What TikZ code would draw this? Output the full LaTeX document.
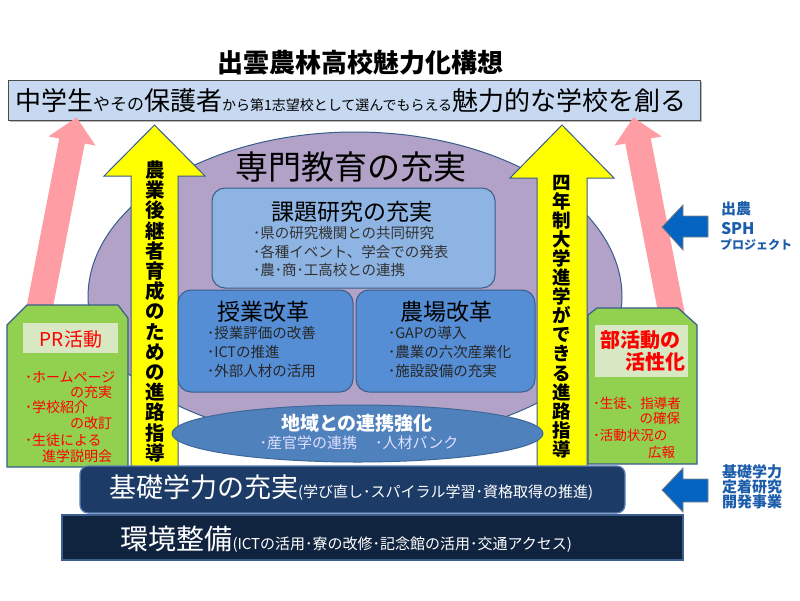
\documentclass[tikz,border=0pt]{standalone}
\usepackage{fontspec}
\setmainfont{Noto Sans CJK JP}
\usetikzlibrary{calc}
\definecolor{bannerc}{HTML}{C6D9F1}
\definecolor{purplec}{HTML}{B3A2C7}
\definecolor{edgec}{HTML}{385D8A}
\definecolor{kadaic}{HTML}{8EB4E3}
\definecolor{boxc}{HTML}{558ED5}
\definecolor{ellc}{HTML}{4F81BD}
\definecolor{yelc}{HTML}{FFFF00}
\definecolor{pinkc}{HTML}{FF9DA5}
\definecolor{greenc}{HTML}{92D050}
\definecolor{greenin}{HTML}{D7E8C2}
\definecolor{redc}{HTML}{FF0000}
\definecolor{bar1c}{HTML}{1C3B66}
\definecolor{bar1e}{HTML}{5B7FB5}
\definecolor{bar2c}{HTML}{10243F}
\definecolor{bar2e}{HTML}{3D5F8F}
\definecolor{bluec}{HTML}{0563C1}
\definecolor{bluetxt}{HTML}{1B5DAA}
\definecolor{itemc}{HTML}{333333}
\newcommand\fsz[2]{\fontsize{#1}{#2}\selectfont}
\begin{document}
\begin{tikzpicture}[x=1pt,y=-1pt,
  every node/.style={inner sep=0pt,outer sep=0pt},
  yarrow/.style={fill=yelc,draw=edgec,line width=1pt},
  bluearrow/.style={fill=bluec,draw=gray,line width=0.8pt},
  greenbox/.style={fill=greenc,draw=edgec,line width=1.2pt},
  subbox/.style={draw=edgec,line width=1pt,rounded corners=13pt},
  itemtxt/.style={align=left,font=\fsz{14.5}{18.8},text=itemc},
  redtxt/.style={font=\fsz{14}{16},text=redc},
  redtxts/.style={font=\fsz{13.5}{16},text=redc},
  bluelbl/.style={font=\bfseries\fsz{15}{16},text=bluetxt,anchor=base west},
  vtext/.style={align=center,font=\bfseries\fsz{19.5}{20.2},text=black}]
\useasboundingbox (0,0) rectangle (800,600);
\fill[white] (0,0) rectangle (800,600);

% title
\node (title) at (360,63) {\bfseries\fsz{26}{28}出雲農林高校魅力化構想};

% banner
\fill[gray!55] (10,82) rectangle (702,122);
\draw[fill=bannerc,draw=black!70,line width=1pt] (8,80) rectangle (700,120);
\node[anchor=base west] (banner) at (15,110) {{\fsz{26}{28}中学生}{\fsz{17}{20}やその}{\fsz{26}{28}保護者}{\fsz{14}{16}から第1志望校として選んでもらえる}{\fsz{26}{28}魅力的な学校を創る}};

% pink arrows
\begin{scope}[shift={(72,141)},rotate=-11]
\fill[pinkc] (-13,190) -- (-13,0) -- (-24,0) -- (0,-24) -- (24,0) -- (13,0) -- (13,190) -- cycle;
\end{scope}
\begin{scope}[shift={(638,141)},rotate=11]
\fill[pinkc] (-13,190) -- (-13,0) -- (-24,0) -- (0,-24) -- (24,0) -- (13,0) -- (13,190) -- cycle;
\end{scope}

% purple blob
\filldraw[fill=purplec,draw=edgec,line width=1pt] (88,297)
  arc[start angle=180,end angle=0,x radius=267pt,y radius=165pt]
  arc[start angle=0,end angle=-180,x radius=267pt,y radius=145pt] -- cycle;
\node (senmon) at (351,167) {\fsz{33}{36}専門教育の充実};

% yellow arrows
\filldraw[yarrow] (131,468) -- (131,176) -- (104,176) -- (154.5,125) -- (205,176) -- (178,176) -- (178,468) -- cycle;
\filldraw[yarrow] (537,468) -- (537,178) -- (510,178) -- (562,125) -- (614,178) -- (587,178) -- (587,468) -- cycle;
\node[vtext] (vleft) at (155,311.5) {農\\業\\後\\継\\者\\育\\成\\の\\た\\め\\の\\進\\路\\指\\導};
\node[vtext,font=\bfseries\fsz{18.5}{19.1}] (vright) at (562,316.5) {四\\年\\制\\大\\学\\進\\学\\が\\で\\き\\る\\進\\路\\指\\導};

% inner boxes
\node[subbox,fill=kadaic,minimum width=283pt,minimum height=100pt] (kadai) at (353.5,238) {};
\node (kadaiT) at (352,212) {\fsz{23}{25}課題研究の充実};
\node[itemtxt,anchor=west] (kadaiI) at (253,251.5) {･県の研究機関との共同研究\\･各種イベント、学会での発表\\･農･商･工高校との連携};

\node[subbox,fill=boxc,minimum width=175pt,minimum height=102pt] (jugyo) at (265.5,341) {};
\node (jugyoT) at (263.5,312) {\fsz{23}{25}授業改革};
\node[itemtxt,anchor=west,text=black!85] (jugyoI) at (207,352) {･授業評価の改善\\･ICTの推進\\･外部人材の活用};

\node[subbox,fill=boxc,minimum width=179pt,minimum height=102pt] (nojo) at (445.5,341) {};
\node (nojoT) at (446,312) {\fsz{23}{25}農場改革};
\node[itemtxt,anchor=west,text=black!85] (nojoI) at (388,352) {･GAPの導入\\･農業の六次産業化\\･施設設備の充実};

% ellipse
\filldraw[fill=ellc,draw=edgec!70!ellc,line width=1pt] (357.5,433.5) ellipse[x radius=185.5pt,y radius=28.5pt];
\node[text=white] (chiikiT) at (357,423) {\bfseries\fsz{19}{21}地域との連携強化};
\node[text=white!88!blue] (chiikiI) at (359,443) {\fsz{15}{17}･産官学の連携\hspace{18pt}･人材バンク};

% green boxes
\filldraw[greenbox] (7,325) -- (27,305) -- (118,305) -- (128,318) -- (128,467) -- (7,467) -- cycle;
\fill[greenin] (23,323) rectangle (118,353);
\node[text=redc] (prT) at (71,339) {\fsz{19}{21}PR活動};
\node[redtxt,anchor=base west] (pr1) at (25,382.3) {･ホームページ};
\node[redtxt,anchor=base east] (pr2) at (112,397.3) {の充実};
\node[redtxt,anchor=base west] (pr3) at (25,412.3) {･学校紹介};
\node[redtxt,anchor=base east] (pr4) at (112,428.3) {の改訂};
\node[redtxt,anchor=base west] (pr5) at (25,445.3) {･生徒による};
\node[redtxt,anchor=base east] (pr6) at (112,461.3) {進学説明会};

\filldraw[greenbox] (588,315) -- (597,308) -- (678,308) -- (697,325) -- (697,464) -- (588,464) -- cycle;
\fill[greenin] (595,325) rectangle (688,377);
\node[text=redc,anchor=base west] (buT1) at (600,347.6) {\bfseries\fsz{20}{22}部活動の};
\node[text=redc,anchor=base east] (buT2) at (685,369.6) {\bfseries\fsz{20}{22}活性化};
\node[redtxts,anchor=base west] (bu1) at (593,408.1) {･生徒、指導者};
\node[redtxts,anchor=base east] (bu2) at (680,423.1) {の確保};
\node[redtxts,anchor=base west] (bu3) at (593,440.1) {･活動状況の};
\node[redtxts,anchor=base east] (bu4) at (675,457.1) {広報};

% bars
\draw[fill=bar2c,draw=bar2e,line width=1.5pt] (62,515) rectangle (683,560);
\draw[fill=bar1c,draw=bar1e,line width=1.2pt,rounded corners=8pt] (80,466) rectangle (625,513);
\node[anchor=base west,text=white] (kiso) at (109,497) {{\fsz{27}{30}基礎学力の充実}{\fsz{15}{18}(学び直し･スパイラル学習･資格取得の推進)}};
\node[anchor=base west,text=white] (kankyo) at (120.5,549) {{\fsz{28}{30}環境整備}{\fsz{15}{18}(ICTの活用･寮の改修･記念館の活用･交通アクセス)}};

% blue arrows
\filldraw[bluearrow] (662,227) -- (683,205) -- (683,216) -- (708,216) -- (708,237) -- (683,237) -- (683,250) -- cycle;
\filldraw[bluearrow] (662,490) -- (683,468) -- (683,479) -- (708,479) -- (708,502) -- (683,502) -- (683,512) -- cycle;
\node[bluelbl] (sph1) at (721,214.7) {出農};
\node[bluelbl,font=\bfseries\fsz{16}{18}] (sph2) at (721,234.8) {SPH};
\node[bluelbl,font=\bfseries\fsz{12}{14}] (sph3) at (720,249.6) {プロジェクト};
\node[bluelbl] (kt1) at (722,477.7) {基礎学力};
\node[bluelbl] (kt2) at (722,492.7) {定着研究};
\node[bluelbl] (kt3) at (722,507.7) {開発事業};
\end{tikzpicture}
\end{document}
